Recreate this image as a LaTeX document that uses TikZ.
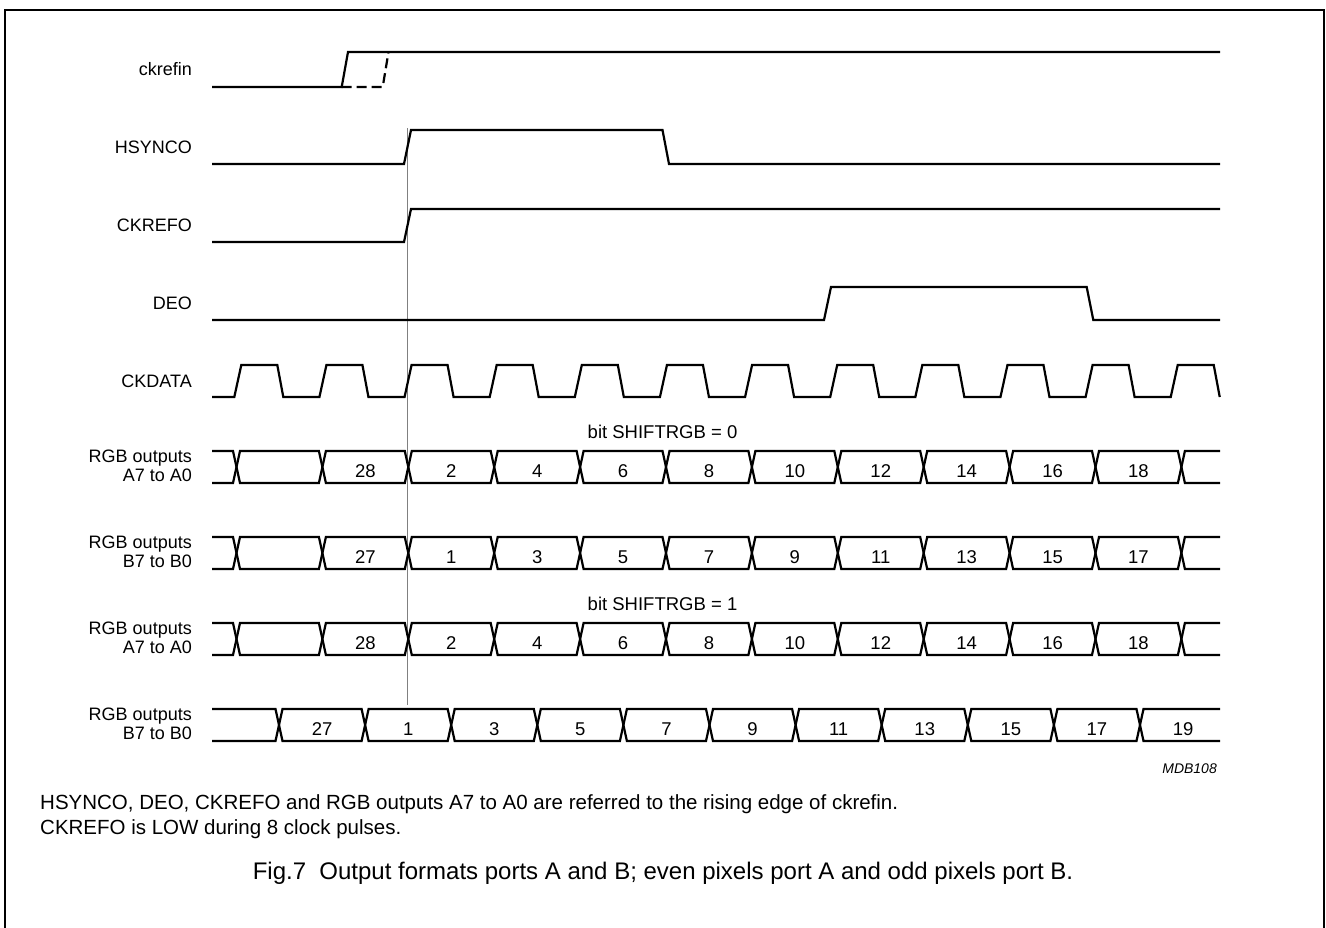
\documentclass[tikz,border=0pt]{standalone}
\usepackage{fontspec}
\setmainfont{Liberation Sans}
\usetikzlibrary{positioning,calc}
\tikzset{
  frame/.style    = {line width=1.8pt},
  wave/.style     = {line width=2.2pt, line join=miter},
  dashwave/.style = {wave, dash pattern=on 10pt off 5pt},
  refline/.style  = {line width=1.3pt, black!50},
  signame/.style  = {anchor=east, align=right, inner sep=0pt,
                     font=\fontsize{18}{19}\selectfont},
  busval/.style   = {anchor=base, inner sep=0pt, font=\fontsize{18.5}{19}\selectfont},
  shiftnote/.style= {inner sep=0pt, font=\fontsize{18.5}{19}\selectfont},
  note/.style     = {anchor=base west, inner sep=0pt, font=\fontsize{20.5}{21}\selectfont},
  figcaption/.style = {anchor=base, inner sep=0pt, font=\fontsize{24}{24}\selectfont}
}
\begin{document}
\begin{tikzpicture}[x=1pt,y=-1pt]
  \useasboundingbox (0,0) rectangle (1326,927);
  \draw[frame] (5,940) -- (5,10) -- (1324,10) -- (1324,940);

  % signal names
  \node[signame] (nckrefin) at (192,69.5)  {ckrefin};
  \node[signame] (nhsynco)  at (192,147)   {HSYNCO};
  \node[signame] (nckrefo)  at (192,225.5) {CKREFO};
  \node[signame] (ndeo)     at (192,303.5) {DEO};
  \node[signame] (nckdata)  at (192,381)   {CKDATA};
  \node[signame] (nbusa)    at (192,466)   {RGB outputs\\A7 to A0};
  \node[signame] (nbusb)    at (192,552)   {RGB outputs\\B7 to B0};
  \node[signame] (nbusas)   at (192,638)   {RGB outputs\\A7 to A0};
  \node[signame] (nbusbs)   at (192,724)   {RGB outputs\\B7 to B0};

  % reference edge
  \coordinate (reftop) at (407.5,128);
  \coordinate (refbot) at (407.5,705);
  \draw[refline] (reftop) -- (refbot);

  % ckrefin
  \draw[wave] (212,87) -- (341.7,87) -- (348,52) -- (1220,52);
  \draw[dashwave] (341.7,87) -- (382.7,87) -- (388.5,52);
  % HSYNCO
  \draw[wave] (212,164) -- (404,164) -- (411,130) -- (662.5,130) -- (669,164) -- (1220,164);
  % CKREFO
  \draw[wave] (212,242) -- (404,242) -- (411,209) -- (1220,209);
  % DEO
  \draw[wave] (212,320) -- (824,320) -- (831,287) -- (1086.7,287) -- (1093.3,320) -- (1220,320);
  % CKDATA
  \draw[wave] (212,397) foreach \k in {0,...,11} {
    -- ({234.3+85.13*\k},397) -- ({241.3+85.13*\k},365)
    -- ({277.3+85.13*\k},365) -- ({283.3+85.13*\k},397) };

  % data buses, rows 1 to 3
  \foreach \ya/\yb in {451/483,483/451,537/569,569/537,623/655,655/623}
    \draw[wave] (212,\ya) foreach \k in {0,2,...,10} {
      -- ({233+85.9*\k},\ya) -- ({240+85.9*\k},\yb)
      -- ({233+85.9*(\k+1)},\yb) -- ({240+85.9*(\k+1)},\ya) } -- (1220,\ya);
  % data bus, row 4
  \foreach \ya/\yb in {709/741,741/709}
    \draw[wave] (212,\ya) foreach \k in {0,2,...,8} {
      -- ({275.5+86.1*\k},\ya) -- ({282.5+86.1*\k},\yb)
      -- ({275.5+86.1*(\k+1)},\yb) -- ({282.5+86.1*(\k+1)},\ya) }
      -- ({275.5+86.1*10},\ya) -- ({282.5+86.1*10},\yb) -- (1220,\yb);

  % bus values
  \foreach \yc/\vals/\r in {467/{28,2,4,6,8,10,12,14,16,18}/a,
                           553/{27,1,3,5,7,9,11,13,15,17}/b,
                           639/{28,2,4,6,8,10,12,14,16,18}/c}
    \foreach \v [count=\i] in \vals
      \node[busval] (v\r\i) at ({236.5+85.9*(\i+0.5)},\yc+10) {\v};
  \foreach \v [count=\i from 0] in {27,1,3,5,7,9,11,13,15,17,19}
    \node[busval] (vd\i) at ({279+86.1*(\i+0.5)},735) {\v};

  \node[shiftnote] (shift0) at (662.5,432) {bit SHIFTRGB = 0};
  \node[shiftnote] (shift1) at (662.5,604) {bit SHIFTRGB = 1};

  \node[anchor=base east, inner sep=0pt, font=\itshape\fontsize{14}{14}\selectfont]
    (code) at (1217,773.3) {MDB108};

  % notes and caption
  \node[note] (note1) at (40,809) {HSYNCO, DEO, CKREFO and RGB outputs A7 to A0 are referred to the rising edge of ckrefin.};
  \node[note] (note2) at (40,834) {CKREFO is LOW during 8 clock pulses.};
  \node[figcaption] (cap) at (663,879) {Fig.7\ \ Output formats ports A and B; even pixels port A and odd pixels port B.};
\end{tikzpicture}
\end{document}
